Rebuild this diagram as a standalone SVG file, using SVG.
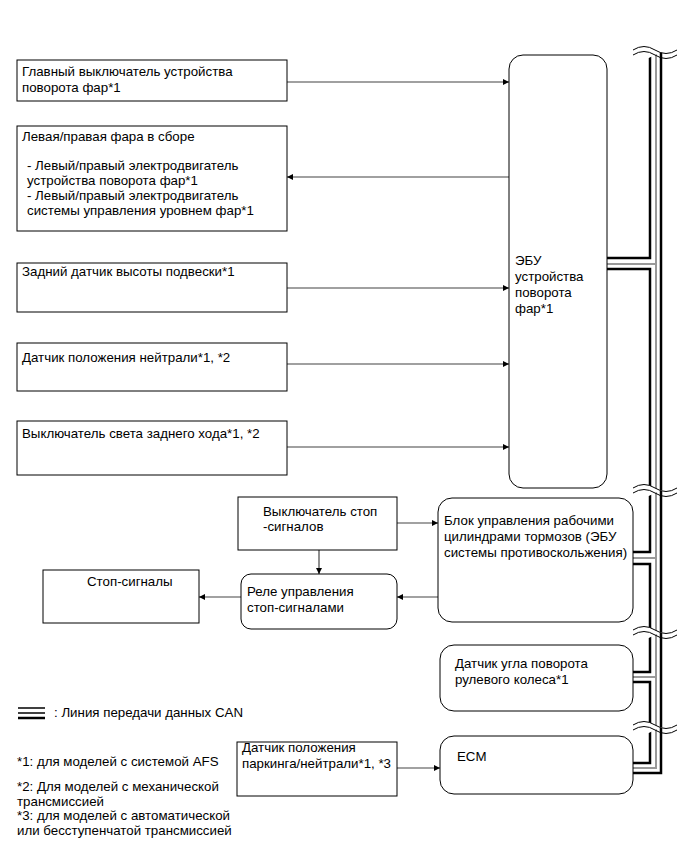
<svg xmlns="http://www.w3.org/2000/svg" width="691" height="854" viewBox="0 0 691 854">
<defs>
<marker id="arr" viewBox="0 0 10 10" refX="10" refY="5" markerWidth="9" markerHeight="6" markerUnits="userSpaceOnUse" orient="auto">
<path d="M0,0 L10,5 L0,10 z" fill="#000"/>
</marker>
</defs>
<style>
text{font-family:"Liberation Sans",Arial,sans-serif;font-size:13.3px;fill:#000}
.box{fill:#fff;stroke:#000;stroke-width:1}
.c1{fill:none;stroke:#808080;stroke-width:1.4}
.c2{fill:none;stroke:#444;stroke-width:1.2}
.bk{fill:none;stroke:#000;stroke-width:2.5}
.gr{fill:none;stroke:#999;stroke-width:2}
.wave{fill:none;stroke:#000;stroke-width:1}
</style>
<rect width="691" height="854" fill="#fff"/>

<g id="connectors">
<line class="c1" x1="287" y1="82" x2="509" y2="82" marker-end="url(#arr)"/>
<line class="c1" x1="509" y1="177" x2="287" y2="177" marker-end="url(#arr)"/>
<line class="c1" x1="287" y1="288" x2="509" y2="288" marker-end="url(#arr)"/>
<line class="c1" x1="287" y1="364" x2="509" y2="364" marker-end="url(#arr)"/>
<line class="c1" x1="287" y1="447" x2="509" y2="447" marker-end="url(#arr)"/>
<line class="c2" x1="397" y1="523" x2="438" y2="523" marker-end="url(#arr)"/>
<line class="c2" x1="319" y1="550" x2="319" y2="574" marker-end="url(#arr)"/>
<line class="c2" x1="438" y1="597" x2="397" y2="597" marker-end="url(#arr)"/>
<line class="c2" x1="241" y1="597" x2="199" y2="597" marker-end="url(#arr)"/>
<line class="c2" x1="397" y1="768" x2="440" y2="768" marker-end="url(#arr)"/>
</g>

<g id="can-bus">
<path class="bk" d="M661,52 V773 H633"/>
<path class="gr" d="M656,52 V768 H633 M656,264 H607 M656,558 H633 M656,677 H633"/>
<path class="bk" d="M650,52 V258 H607 M607,269 H650 V552 H633 M633,564 H650 V672 H633 M633,682 H650 V763 H633"/>
<g id="breaks">
<path d="M633,50 q11,-7 22,0 t22,0 v5 q-11,-7 -22,0 t-22,0 z" fill="#fff" stroke="none"/>
<path class="wave" d="M633,50 q11,-7 22,0 t22,0"/>
<path class="wave" d="M633,55 q11,-7 22,0 t22,0"/>
<path d="M633,488 q11,-7 22,0 t22,0 v5 q-11,-7 -22,0 t-22,0 z" fill="#fff" stroke="none"/>
<path class="wave" d="M633,488 q11,-7 22,0 t22,0"/>
<path class="wave" d="M633,493 q11,-7 22,0 t22,0"/>
<path d="M633,630 q11,-7 22,0 t22,0 v5 q-11,-7 -22,0 t-22,0 z" fill="#fff" stroke="none"/>
<path class="wave" d="M633,630 q11,-7 22,0 t22,0"/>
<path class="wave" d="M633,635 q11,-7 22,0 t22,0"/>
<path d="M633,725 q11,-7 22,0 t22,0 v5 q-11,-7 -22,0 t-22,0 z" fill="#fff" stroke="none"/>
<path class="wave" d="M633,725 q11,-7 22,0 t22,0"/>
<path class="wave" d="M633,730 q11,-7 22,0 t22,0"/>
</g>
</g>

<g id="n-main-switch">
<rect class="box" x="17" y="60" width="270" height="41"/>
<text x="22" y="76">Главный выключатель устройства</text>
<text x="22" y="92">поворота фар*1</text>
</g>
<g id="n-headlamp">
<rect class="box" x="17" y="126" width="270" height="105"/>
<text x="22" y="141">Левая/правая фара в сборе</text>
<text x="27" y="170">- Левый/правый электродвигатель</text>
<text x="27" y="185">устройства поворота фар*1</text>
<text x="27" y="200">- Левый/правый электродвигатель</text>
<text x="27" y="215">системы управления уровнем фар*1</text>
</g>
<g id="n-height-sensor">
<rect class="box" x="17" y="263" width="270" height="49"/>
<text x="22" y="276">Задний датчик высоты подвески*1</text>
</g>
<g id="n-neutral-sensor">
<rect class="box" x="17" y="343" width="270" height="48"/>
<text x="22" y="362">Датчик положения нейтрали*1, *2</text>
</g>
<g id="n-reverse-switch">
<rect class="box" x="17" y="421" width="270" height="54"/>
<text x="22" y="438">Выключатель света заднего хода*1, *2</text>
</g>
<g id="n-ecu">
<rect class="box" x="509" y="55" width="98" height="433" rx="14"/>
<text x="515" y="265">ЭБУ</text>
<text x="515" y="281">устройства</text>
<text x="515" y="297">поворота</text>
<text x="515" y="313">фар*1</text>
</g>
<g id="n-stop-switch">
<rect class="box" x="238" y="497" width="159" height="53"/>
<text x="263" y="516">Выключатель стоп</text>
<text x="263" y="531">-сигналов</text>
</g>
<g id="n-abs">
<rect class="box" x="438" y="498" width="195" height="124" rx="14"/>
<text x="444" y="525">Блок управления рабочими</text>
<text x="444" y="541">цилиндрами тормозов (ЭБУ</text>
<text x="444" y="557">системы противоскольжения)</text>
</g>
<g id="n-relay">
<rect class="box" x="241" y="574" width="156" height="55" rx="10"/>
<text x="247" y="596">Реле управления</text>
<text x="247" y="612">стоп-сигналами</text>
</g>
<g id="n-stop-lights">
<rect class="box" x="43" y="570" width="156" height="53"/>
<text x="87" y="586">Стоп-сигналы</text>
</g>
<g id="n-steering">
<rect class="box" x="440" y="645" width="193" height="66" rx="14"/>
<text x="455" y="668">Датчик угла поворота</text>
<text x="455" y="684">рулевого колеса*1</text>
</g>
<g id="n-ecm">
<rect class="box" x="440" y="736" width="193" height="58" rx="14"/>
<text x="457" y="761">ECM</text>
</g>
<g id="n-park-sensor">
<rect class="box" x="237" y="742" width="160" height="54"/>
<text x="242" y="752">Датчик положения</text>
<text x="242" y="768">паркинга/нейтрали*1, *3</text>
</g>

<g id="legend">
<line x1="18" y1="708" x2="45" y2="708" stroke="#000" stroke-width="1.5"/>
<line x1="18" y1="713" x2="45" y2="713" stroke="#000" stroke-width="1.5"/>
<line x1="18" y1="718" x2="45" y2="718" stroke="#000" stroke-width="2.5"/>
<text x="54" y="717">: Линия передачи данных CAN</text>
<text x="17" y="766">*1: для моделей с системой AFS</text>
<text x="17" y="791">*2: Для моделей с механической</text>
<text x="17" y="806">трансмиссией</text>
<text x="17" y="820">*3: для моделей с автоматической</text>
<text x="17" y="835">или бесступенчатой трансмиссией</text>
</g>
</svg>
